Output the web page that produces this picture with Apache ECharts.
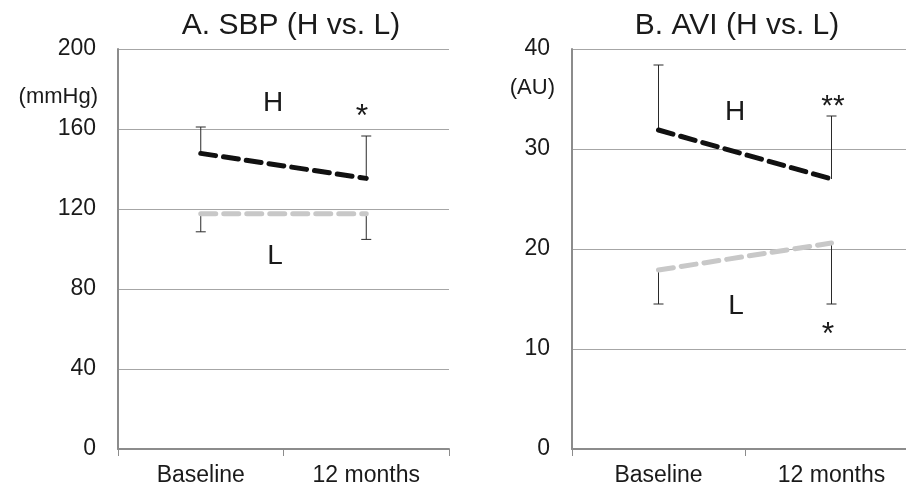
<!DOCTYPE html>
<html>
<head>
<meta charset="utf-8">
<script src="https://cdn.jsdelivr.net/npm/echarts@6/dist/echarts.min.js"></script>
<style>
html, body { margin: 0; padding: 0; background: #fff; }
#chart { width: 906px; height: 494px; }
</style>
</head>
<body>
<div id="chart"></div>
<script>
// categories
var timePoints = ['Baseline', '12 months'];

// A. SBP (mmHg)
var sbpHigh = [147.8, 135.3];
var sbpLow = [117.6, 117.6];
var sbpHighUpper = [161, 156.5];   // mean + SD
var sbpLowLower = [108.6, 104.8];  // mean - SD

// B. AVI (AU)
var aviHigh = [31.9, 27.0];
var aviLow = [17.9, 20.6];
var aviHighUpper = [38.4, 33.3];
var aviLowLower = [14.5, 14.5];

var font = 'Liberation Sans, Arial, sans-serif';
var txt = '#1a1a1a';

function errData(mean, bound) {
	return mean.map(function (m, i) { return [i, m, bound[i]]; });
}

function errBar(params, api) {
	var p1 = api.coord([api.value(0), api.value(1)]);
	var p2 = api.coord([api.value(0), api.value(2)]);
	var st = { stroke: '#2a2a2a', lineWidth: 1 };
	return {
		type: 'group',
		children: [
			{ type: 'line', shape: { x1: p1[0], y1: p1[1], x2: p2[0], y2: p2[1] }, style: st },
			{ type: 'line', shape: { x1: p2[0] - 5, y1: p2[1], x2: p2[0] + 5, y2: p2[1] }, style: st }
		]
	};
}

function xAx(gi) {
	return {
		type: 'category', gridIndex: gi, data: timePoints,
		axisLine: { lineStyle: { color: '#8c8c8c', width: 2 } },
		axisTick: { show: true, length: 7, lineStyle: { color: '#8c8c8c', width: 1 } },
		axisLabel: { color: txt, fontSize: 23, fontFamily: font, margin: 15 }
	};
}

function yAx(gi, max, step) {
	return {
		type: 'value', gridIndex: gi, min: 0, max: max, interval: step,
		axisLine: { show: true, lineStyle: { color: '#8c8c8c', width: 2 } },
		axisTick: { show: false },
		splitLine: { lineStyle: { color: '#a6a6a6', width: 1 } },
		axisLabel: { color: txt, fontSize: 23, fontFamily: font, margin: 22 }
	};
}

function meanLine(idx, data, color) {
	return {
		type: 'line', xAxisIndex: idx, yAxisIndex: idx, data: data,
		symbol: 'none', z: 3,
		lineStyle: { color: color, width: 5, type: [15, 8], cap: 'round' }
	};
}

function errSeries(idx, mean, bound) {
	return {
		type: 'custom', xAxisIndex: idx, yAxisIndex: idx,
		data: errData(mean, bound), renderItem: errBar,
		encode: { x: 0, y: [1, 2] }, z: 2
	};
}

function note(x, y, text, size, align) {
	return {
		type: 'text', x: x, y: y,
		style: { text: text, fill: txt, font: size + 'px ' + font, align: align || 'center', verticalAlign: 'middle' }
	};
}

var chart = echarts.init(document.getElementById('chart'));
chart.setOption({
	animation: false,
	title: [
		{ text: 'A. SBP (H vs. L)', left: 286, top: 6, textAlign: 'center',
			textStyle: { fontSize: 30, fontWeight: 'normal', color: txt, fontFamily: font } },
		{ text: 'B. AVI (H vs. L)', left: 732, top: 6, textAlign: 'center',
			textStyle: { fontSize: 30, fontWeight: 'normal', color: txt, fontFamily: font } }
	],
	grid: [
		{ left: 118, top: 49, width: 331, height: 400, outerBoundsMode: 'none' },
		{ left: 572, top: 49, width: 346, height: 400, outerBoundsMode: 'none' }
	],
	xAxis: [xAx(0), xAx(1)],
	yAxis: [yAx(0, 200, 40), yAx(1, 40, 10)],
	series: [
		errSeries(0, sbpHigh, sbpHighUpper),
		errSeries(0, sbpLow, sbpLowLower),
		meanLine(0, sbpHigh, '#111111'),
		meanLine(0, sbpLow, '#c8c8c8'),
		errSeries(1, aviHigh, aviHighUpper),
		errSeries(1, aviLow, aviLowLower),
		meanLine(1, aviHigh, '#111111'),
		meanLine(1, aviLow, '#c8c8c8')
	],
	graphic: [
		note(98, 97, '(mmHg)', 22, 'right'),
		note(273, 103, 'H', 28),
		note(362, 117, '*', 32),
		note(275, 256, 'L', 28),
		note(555, 88, '(AU)', 22, 'right'),
		note(735, 112, 'H', 28),
		note(833, 107, '**', 30),
		note(736, 306, 'L', 28),
		note(828, 335, '*', 32)
	]
});
</script>
</body>
</html>
